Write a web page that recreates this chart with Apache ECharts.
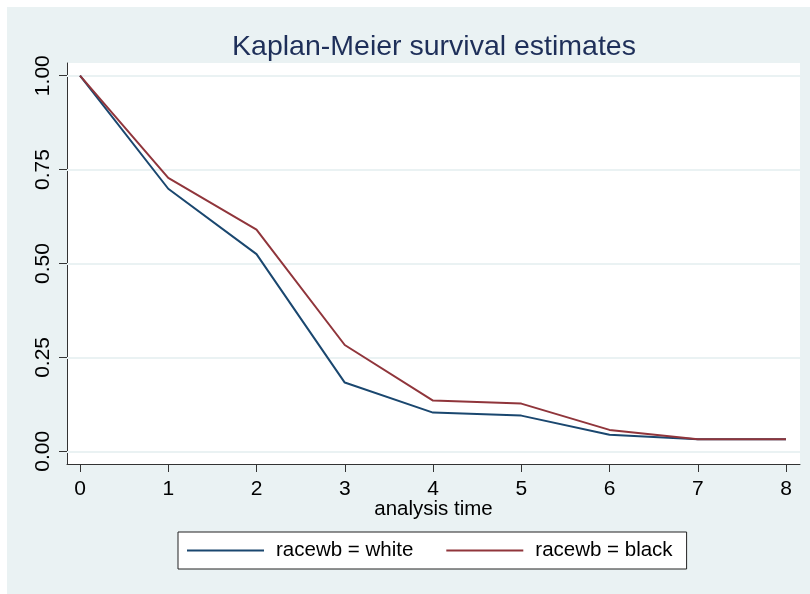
<!DOCTYPE html>
<html>
<head>
<meta charset="utf-8">
<script src="https://cdn.jsdelivr.net/npm/echarts@6/dist/echarts.min.js"></script>
<style>html,body{margin:0;padding:0;background:#fff;}#c{width:810px;height:594px;}</style>
</head>
<body>
<div id="c"></div>
<script>
var times = [0, 1, 2, 3, 4, 5, 6, 7, 8];
var white = [1.000, 0.699, 0.525, 0.183, 0.103, 0.095, 0.044, 0.032, 0.032];
var black = [1.000, 0.728, 0.590, 0.283, 0.135, 0.127, 0.057, 0.032, 0.032];
var yTicks = [0, 0.25, 0.5, 0.75, 1];
var xTicks = [0, 1, 2, 3, 4, 5, 6, 7, 8];
var seriesNames = ['racewb = white', 'racewb = black'];

var FONT = 'Liberation Sans';
var chart = echarts.init(document.getElementById('c'), null, {renderer: 'canvas'});
function pairs(xs, ys) { return xs.map(function (x, i) { return [x, ys[i]]; }); }

chart.setOption({
  backgroundColor: '#ffffff',
  animation: false,
  graphic: [{
    type: 'rect', left: 7, top: 7, z: -10,
    shape: {width: 803, height: 587},
    style: {fill: '#eaf2f3'}
  }],
  title: {
    text: 'Kaplan-Meier survival estimates',
    left: 429, textAlign: 'center', top: 28,
    textStyle: {fontFamily: FONT, fontSize: 28.5, fontWeight: 'normal', color: '#1e2f59'}
  },
  grid: {
    left: 67, top: 63, width: 733, height: 401,
    show: true, backgroundColor: '#ffffff', borderWidth: 0
  },
  legend: {
    left: 178, top: 532,
    data: seriesNames,
    icon: 'rect', itemWidth: 77, itemHeight: 2, itemGap: 33,
    padding: [8, 14, 8, 9],
    borderColor: '#222', borderWidth: 1, backgroundColor: '#ffffff',
    textStyle: {fontFamily: FONT, fontSize: 20.5, color: '#000', padding: [0, 0, 0, 7]}
  },
  xAxis: {
    type: 'value', min: -0.1473, max: 8.1586,
    name: 'analysis time', nameLocation: 'middle', nameGap: 45,
    nameMoveOverlap: false,
    nameTextStyle: {fontFamily: FONT, fontSize: 20.5, color: '#000', verticalAlign: 'middle'},
    axisLine: {show: true, onZero: false, lineStyle: {color: '#333', width: 1}},
    axisTick: {show: true, length: 8, lineStyle: {color: '#333'}, customValues: xTicks},
    axisLabel: {fontFamily: FONT, fontSize: 21, color: '#000', margin: 15, customValues: xTicks},
    splitLine: {show: false}
  },
  yAxis: {
    type: 'value', min: -0.0338, max: 1.0338,
    axisLine: {show: true, onZero: false, lineStyle: {color: '#333', width: 1}},
    axisTick: {show: true, length: 8, lineStyle: {color: '#333'}, customValues: yTicks},
    axisLabel: {
      fontFamily: FONT, fontSize: 21, color: '#000', margin: 13, rotate: 90,
      customValues: yTicks,
      formatter: function (v) { return v.toFixed(2); }
    },
    splitLine: {show: false}
  },
  series: [
    {
      name: seriesNames[0], type: 'line', data: pairs(times, white),
      showSymbol: false, symbol: 'none',
      lineStyle: {color: '#1a476f', width: 2}, itemStyle: {color: '#1a476f'},
      z: 3,
      markLine: {
        silent: true, symbol: 'none', label: {show: false},
        lineStyle: {color: '#eaf2f3', width: 2, type: 'solid'},
        data: yTicks.map(function (v) { return {yAxis: v}; }),
        z: 1
      }
    },
    {
      name: seriesNames[1], type: 'line', data: pairs(times, black),
      showSymbol: false, symbol: 'none',
      lineStyle: {color: '#90353b', width: 2}, itemStyle: {color: '#90353b'},
      z: 4
    }
  ]
});
</script>
</body>
</html>
